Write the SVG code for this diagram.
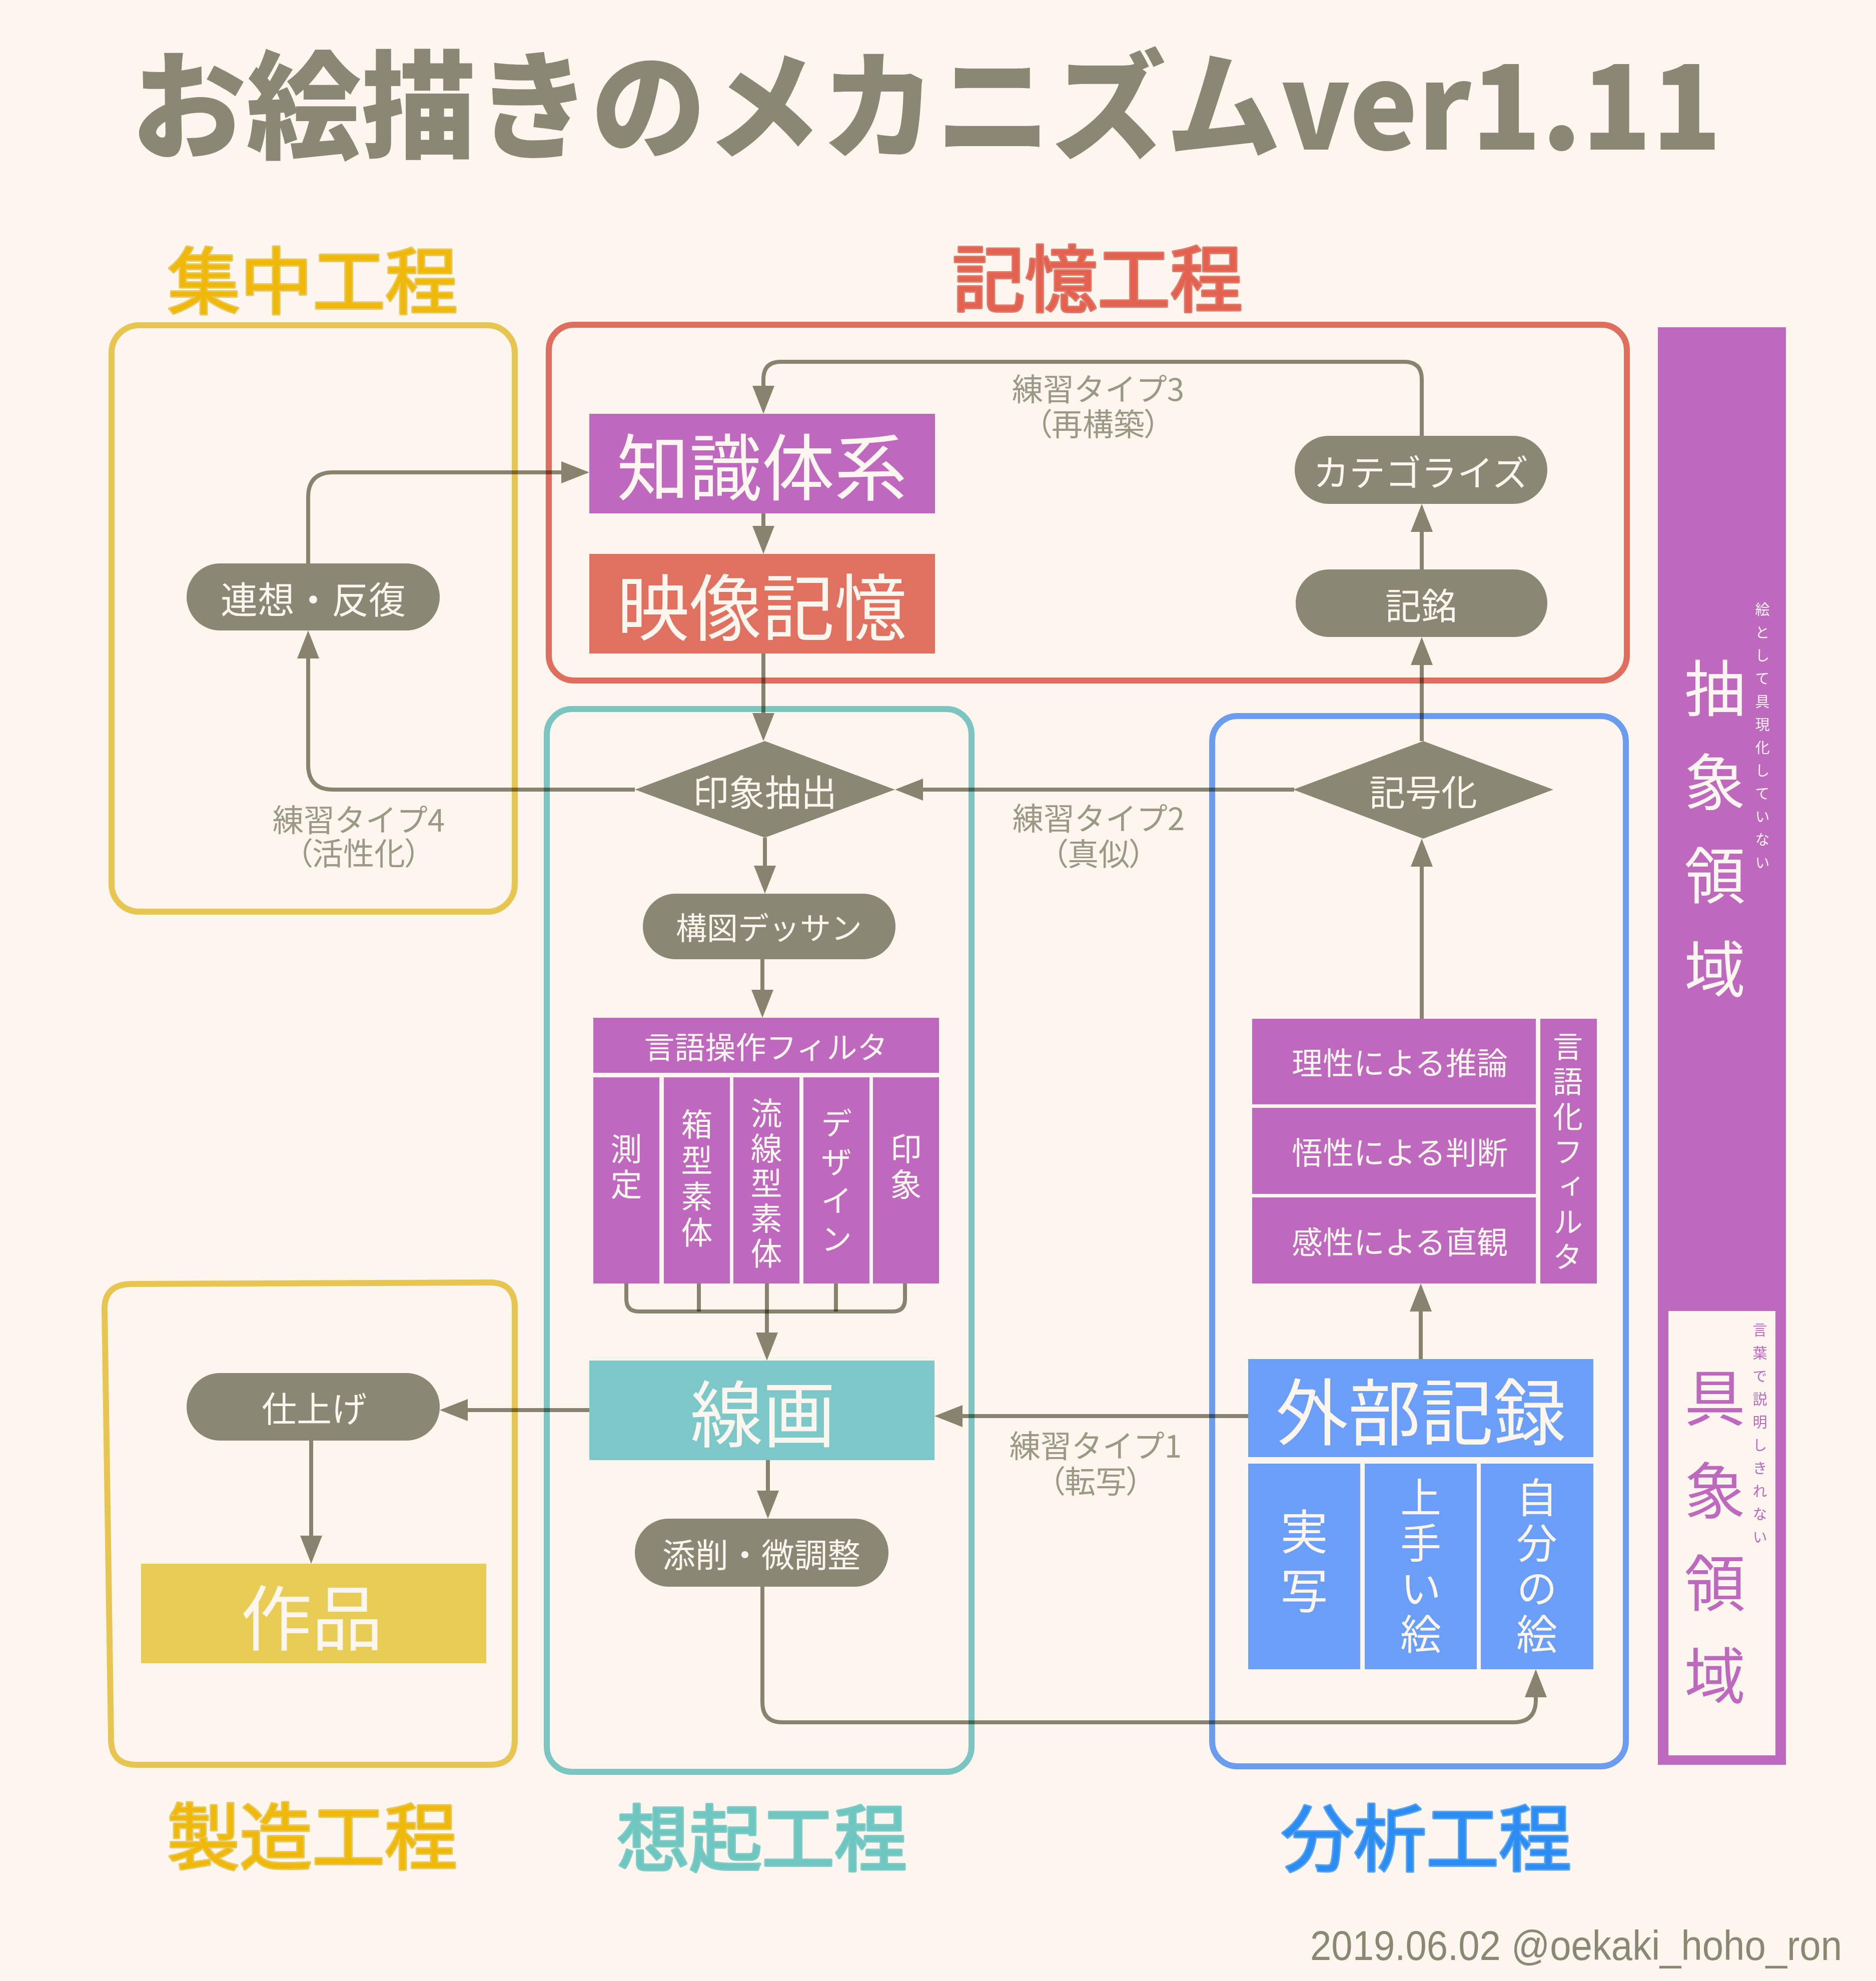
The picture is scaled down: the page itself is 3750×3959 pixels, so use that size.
<svg xmlns="http://www.w3.org/2000/svg" width="3750" height="3959" viewBox="0 0 3750 3959">
<style>
.jp{font-family:"Noto Sans CJK JP","Noto Sans",sans-serif}
.nt{font-family:"Noto Sans CJK JP",sans-serif;fill:#fdf6ef;text-anchor:middle;dominant-baseline:central}
.vv{font-family:"Noto Sans CJK JP",sans-serif;fill:#fdf6ef;writing-mode:vertical-rl;text-anchor:start}
.conn{fill:none;stroke:#8a8775;stroke-width:8;mix-blend-mode:multiply}
.gray{fill:#8a8775}
.purple{fill:#be68be}
.lbl{font-family:"Noto Sans CJK JP",sans-serif;fill:#9b9886;font-size:62px;text-anchor:middle;dominant-baseline:central}
.stage{font-family:"Noto Sans CJK JP",sans-serif;font-size:145px;text-anchor:middle;dominant-baseline:central;paint-order:stroke;stroke-width:6;stroke-linejoin:round}
.frame{fill:none;stroke-width:12}
.palt{font-feature-settings:'palt'}
</style>
<defs>
<marker id="ah" markerUnits="userSpaceOnUse" markerWidth="58" markerHeight="44" refX="0" refY="22" orient="auto" overflow="visible">
<path d="M0,0 L56,22 L0,44 z" fill="#8a8775"/>
</marker>
</defs>
<rect width="3750" height="3959" fill="#fdf6ef"/>

<text class="jp" x="1852" y="196" font-size="235" font-weight="900" fill="#8a8775" text-anchor="middle" dominant-baseline="central" textLength="3179" lengthAdjust="spacingAndGlyphs">お絵描きのメカニズムver1.11</text>

<g id="stage-labels">
<text class="stage" x="625" y="553" fill="#f0b90a" stroke="#e8c85a">集中工程</text>
<text class="stage" x="2194" y="549" fill="#e2624f" stroke="#e27868">記憶工程</text>
<text class="stage" x="624" y="3662" fill="#f0b90a" stroke="#e8c85a">製造工程</text>
<text class="stage" x="1523" y="3665" fill="#6ec6c0" stroke="#80cbc6">想起工程</text>
<text class="stage" x="2851" y="3665" fill="#2b8cf2" stroke="#5aa2f2">分析工程</text>
</g>

<g id="frames">
<rect id="frame-concentrate" class="frame" x="223" y="650" width="806" height="1172" rx="55" stroke="#e8c550"/>
<rect id="frame-memory" class="frame" x="1097" y="649" width="2155" height="711" rx="50" stroke="#e06e5e"/>
<rect id="frame-recall" class="frame" x="1093" y="1417" width="849" height="2124" rx="50" stroke="#7cc4bf"/>
<rect id="frame-analysis" class="frame" x="2423" y="1431" width="827" height="2099" rx="50" stroke="#6b9cee"/>
<path id="frame-produce" class="frame" stroke="#e8c550" d="M264,2566 L979,2563 Q1029,2563 1029,2613 L1029,3477 Q1029,3527 979,3527 L273,3527 Q223,3527 222,3477 L209,2616 Q209,2566 264,2566 Z"/>
</g>

<g id="connectors">
<path class="conn" d="M1526,1026 V1051" marker-end="url(#ah)"/>
<path class="conn" d="M1526,1306 V1425" marker-end="url(#ah)"/>
<path class="conn" d="M1529,1674 V1730" marker-end="url(#ah)"/>
<path class="conn" d="M1524,1916 V1978" marker-end="url(#ah)"/>
<path class="conn" d="M1252,2565 V2596 Q1252,2621 1277,2621 H1784 Q1809,2621 1809,2596 V2565"/>
<path class="conn" d="M1397,2565 V2621"/>
<path class="conn" d="M1671,2565 V2621"/>
<path class="conn" d="M1533,2565 V2663" marker-end="url(#ah)"/>
<path class="conn" d="M1535,2918 V2979" marker-end="url(#ah)"/>
<path class="conn" d="M1524,3171 V3402 Q1524,3442 1564,3442 H3025 Q3070,3442 3070,3397 V3392" marker-end="url(#ah)"/>
<path class="conn" d="M2495,2830 H1924" marker-end="url(#ah)"/>
<path class="conn" d="M1178,2818 H935" marker-end="url(#ah)"/>
<path class="conn" d="M622,2879 V3069" marker-end="url(#ah)"/>
<path class="conn" d="M2840,2716 V2621" marker-end="url(#ah)"/>
<path class="conn" d="M2842,2036 V1732" marker-end="url(#ah)"/>
<path class="conn" d="M2842,1481 V1329" marker-end="url(#ah)"/>
<path class="conn" d="M2842,1138 V1063" marker-end="url(#ah)"/>
<path class="conn" d="M2842,871 V758 Q2842,723 2807,723 H1561 Q1526,723 1526,758 V771" marker-end="url(#ah)"/>
<path class="conn" d="M2587,1578 H1845" marker-end="url(#ah)"/>
<path class="conn" d="M1269,1578 H666 Q616,1578 616,1528 V1316" marker-end="url(#ah)"/>
<path class="conn" d="M616,1126 V994 Q616,944 666,944 H1122" marker-end="url(#ah)"/>
</g>

<g id="edge-labels">
<text class="lbl"><tspan x="2195" y="774">練習タイプ3</tspan><tspan class="palt" x="2195" y="844">（再構築）</tspan></text>
<text class="lbl"><tspan x="2196" y="1632">練習タイプ2</tspan><tspan class="palt" x="2196" y="1703">（真似）</tspan></text>
<text class="lbl"><tspan x="2190" y="2886">練習タイプ1</tspan><tspan class="palt" x="2190" y="2957">（転写）</tspan></text>
<text class="lbl"><tspan x="717" y="1635">練習タイプ4</tspan><tspan class="palt" x="717" y="1702">（活性化）</tspan></text>
</g>

<g id="n-rensou">
<rect class="gray" x="373" y="1126" width="506" height="134" rx="67"/>
<text class="nt" x="626" y="1193" font-size="74">連想・反復</text>
</g>
<g id="n-chishiki">
<rect class="purple" x="1178" y="827" width="691" height="199"/>
<text class="nt" x="1523" y="926" font-size="145">知識体系</text>
</g>
<g id="n-eizou">
<rect x="1178" y="1107" width="691" height="199" fill="#e07060"/>
<text class="nt" x="1523" y="1206" font-size="145">映像記憶</text>
</g>
<g id="n-category">
<rect class="gray" x="2588" y="871" width="505" height="136" rx="68"/>
<text class="nt" x="2840" y="939" font-size="72">カテゴライズ</text>
</g>
<g id="n-kimei">
<rect class="gray" x="2590" y="1138" width="503" height="135" rx="67"/>
<text class="nt" x="2841" y="1205" font-size="72">記銘</text>
</g>
<g id="n-inshou">
<polygon class="gray" points="1269,1578 1529,1481 1789,1578 1529,1674"/>
<text class="nt" x="1529" y="1578" font-size="72">印象抽出</text>
</g>
<g id="n-kigou">
<polygon class="gray" points="2585,1578 2845,1481 3105,1578 2845,1676"/>
<text class="nt" x="2845" y="1578" font-size="72">記号化</text>
</g>
<g id="n-kouzu">
<rect class="gray" x="1285" y="1786" width="505" height="131" rx="65"/>
<text class="nt" x="1537" y="1851" font-size="62">構図デッサン</text>
</g>
<g id="n-gengo-sousa">
<rect class="purple" x="1186" y="2034" width="691" height="110"/>
<text class="nt" x="1531" y="2089" font-size="61">言語操作フィルタ</text>
<rect class="purple" x="1186" y="2153" width="132" height="412"/>
<rect class="purple" x="1327" y="2153" width="132" height="412"/>
<rect class="purple" x="1466" y="2153" width="132" height="412"/>
<rect class="purple" x="1606" y="2153" width="132" height="412"/>
<rect class="purple" x="1745" y="2153" width="132" height="412"/>
<text class="vv" x="1252" y="2264" font-size="63" letter-spacing="8">測定</text>
<text class="vv" x="1393" y="2215" font-size="63" letter-spacing="9">箱型素体</text>
<text class="vv" x="1532" y="2193" font-size="63" letter-spacing="7">流線型素体</text>
<text class="vv" x="1672" y="2213" font-size="63" letter-spacing="14">デザイン</text>
<text class="vv" x="1811" y="2264" font-size="63" letter-spacing="8">印象</text>
</g>
<g id="n-senga">
<rect x="1178" y="2719" width="690" height="199" fill="#7cc8c8"/>
<text class="nt" x="1525" y="2818" font-size="145">線画</text>
</g>
<g id="n-tensaku">
<rect class="gray" x="1269" y="3035" width="507" height="136" rx="68"/>
<text class="nt" x="1522" y="3103" font-size="66">添削・微調整</text>
</g>
<g id="n-shiage">
<rect class="gray" x="373" y="2744" width="506" height="135" rx="67"/>
<text class="nt" x="628" y="2811" font-size="70">仕上げ</text>
</g>
<g id="n-sakuhin">
<rect x="282" y="3125" width="690" height="199" fill="#e8cc55"/>
<text class="nt" x="623" y="3225" font-size="142">作品</text>
</g>
<g id="n-gengoka">
<rect class="purple" x="2503" y="2036" width="567" height="171"/>
<rect class="purple" x="2503" y="2214" width="567" height="172"/>
<rect class="purple" x="2503" y="2393" width="567" height="172"/>
<text class="nt" x="2798" y="2121" font-size="62">理性による推論</text>
<text class="nt" x="2798" y="2300" font-size="62">悟性による判断</text>
<text class="nt" x="2798" y="2479" font-size="62">感性による直観</text>
<rect class="purple" x="3079" y="2036" width="113" height="529"/>
<text class="vv" x="3134" y="2061" font-size="60" letter-spacing="10">言語化フィルタ</text>
</g>
<g id="n-gaibu">
<rect x="2495" y="2716" width="690" height="196" fill="#6a9ef8"/>
<text class="nt" x="2840" y="2814" font-size="145">外部記録</text>
<rect x="2495" y="2925" width="224" height="411" fill="#6a9ef8"/>
<rect x="2728" y="2925" width="224" height="411" fill="#6a9ef8"/>
<rect x="2960" y="2925" width="225" height="411" fill="#6a9ef8"/>
<text class="vv" x="2607" y="3013" font-size="95" letter-spacing="23">実写</text>
<text class="vv" x="2840" y="2951" font-size="82" letter-spacing="9">上手い絵</text>
<text class="vv" x="3072" y="2951" font-size="82" letter-spacing="9">自分の絵</text>
</g>

<g id="side-bar">
<rect class="purple" x="3314" y="654" width="256" height="2873"/>
<rect x="3335" y="2620" width="214" height="888" fill="#fdf6ef"/>
<text class="vv" x="3428" y="1314" font-size="122" letter-spacing="65">抽象領域</text>
<text class="vv" x="3523" y="1203" font-size="29" letter-spacing="17">絵として具現化していない</text>
<text class="vv" x="3428" y="2732" font-size="122" letter-spacing="63" style="fill:#be68be">具象領域</text>
<text class="vv" x="3518" y="2643" font-size="29" letter-spacing="17" style="fill:#be68be">言葉で説明しきれない</text>
</g>

<text transform="translate(2619,3917) scale(1,1.1)" x="0" y="0" font-family="Liberation Sans, sans-serif" font-size="76" fill="#8a8775" textLength="1063" lengthAdjust="spacingAndGlyphs">2019.06.02 @oekaki_hoho_ron</text>
</svg>
